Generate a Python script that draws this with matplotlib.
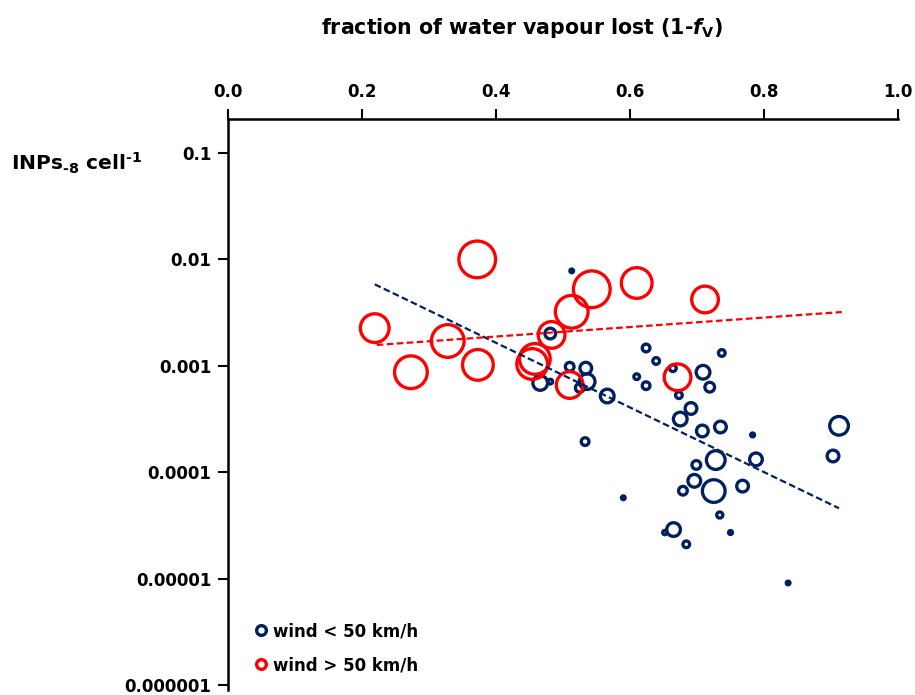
import matplotlib
matplotlib.use('Agg')
import matplotlib.pyplot as plt
from matplotlib.lines import Line2D

plt.rcParams['font.family'] = ['DejaVu Sans']
plt.rcParams['font.weight'] = 'bold'
plt.rcParams['mathtext.fontset'] = 'custom'
plt.rcParams['mathtext.rm'] = 'DejaVu Sans:bold'
plt.rcParams['mathtext.it'] = 'DejaVu Sans:italic:bold'
plt.rcParams['mathtext.bf'] = 'DejaVu Sans:bold'

# wind < 50 km/h
navy_x = [0.624, 0.639, 0.664, 0.737, 0.709, 0.719, 0.610, 0.624, 0.673, 0.691,
          0.675, 0.708, 0.735, 0.783, 0.533, 0.728, 0.788, 0.903, 0.912, 0.699,
          0.696, 0.679, 0.725, 0.768, 0.590, 0.734, 0.665, 0.652, 0.750, 0.684,
          0.836, 0.466, 0.481, 0.510, 0.534, 0.536, 0.525, 0.566, 0.481, 0.513]
navy_y = [1.47e-3, 1.11e-3, 9.5e-4, 1.32e-3, 8.7e-4, 6.3e-4, 7.9e-4, 6.5e-4, 5.3e-4, 3.97e-4,
          3.16e-4, 2.44e-4, 2.66e-4, 2.24e-4, 1.94e-4, 1.30e-4, 1.32e-4, 1.42e-4, 2.73e-4, 1.17e-4,
          8.3e-5, 6.7e-5, 6.65e-5, 7.4e-5, 5.75e-5, 3.96e-5, 2.89e-5, 2.71e-5, 2.71e-5, 2.1e-5,
          9.1e-6, 6.9e-4, 7.1e-4, 9.8e-4, 9.5e-4, 7.1e-4, 6.2e-4, 5.2e-4, 2.01e-3, 7.8e-3]
navy_bubble = [5.5, 5, 5, 5, 8.5, 6.5, 4.5, 5.5, 5, 7.5,
               8.5, 7.5, 7.5, 3.6, 5.5, 11, 8, 7.5, 11, 6,
               8, 6, 13, 7.5, 3.5, 4.7, 8.5, 3.8, 3.6, 5,
               3.5, 9, 4, 6, 7.5, 9.5, 6, 8.5, 7, 3.5]

# wind > 50 km/h
red_x = [0.372, 0.219, 0.328, 0.273, 0.373, 0.454, 0.458, 0.510, 0.513, 0.543,
         0.483, 0.610, 0.712, 0.671]
red_y = [1.0e-2, 2.26e-3, 1.71e-3, 8.7e-4, 1.02e-3, 1.04e-3, 1.16e-3, 6.6e-4, 3.22e-3, 5.24e-3,
         1.95e-3, 6.0e-3, 4.2e-3, 7.8e-4]
red_bubble = [20, 16, 18, 18, 17, 17, 17, 15, 18, 20,
              15, 17, 15, 15]

# exponential trend lines (end points)
trend_x = [0.219, 0.912]
trend_navy = [5.83e-3, 4.58e-5]
trend_x_red = [0.222, 0.916]
trend_red = [1.57e-3, 3.2e-3]

yticks = [1e-1, 1e-2, 1e-3, 1e-4, 1e-5, 1e-6]
ytick_labels = ['0.1', '0.01', '0.001', '0.0001', '0.00001', '0.000001']
xticks = [0.0, 0.2, 0.4, 0.6, 0.8, 1.0]

NAVY = '#002060'
RED = '#FF0000'
W, H = 915, 695
ring_px = 3.3


def marker_size(radii):
    # outer radius in px -> scatter area in pt^2
    return [(2 * max(r - ring_px / 2, 0.5) * 0.72) ** 2 for r in radii]


fig = plt.figure(figsize=(W / 100, H / 100), dpi=100)
ax = fig.add_axes([228 / W, 1 - 690 / H, 670 / W, (690 - 119) / H])

ax.scatter(navy_x, navy_y, s=marker_size(navy_bubble), facecolors='none',
           edgecolors=NAVY, linewidths=ring_px * 0.72, zorder=3)
ax.scatter(red_x, red_y, s=marker_size(red_bubble), facecolors='none',
           edgecolors=RED, linewidths=ring_px * 0.72, zorder=4)
ax.plot(trend_x, trend_navy, color=NAVY, lw=1.6, ls=(0, (3, 1.5)), zorder=5)
ax.plot(trend_x_red, trend_red, color=RED, lw=1.6, ls=(0, (3, 1.5)), zorder=5)

ax.set_yscale('log')
ax.set_xlim(0, 1)
ax.set_ylim(10 ** (-6 - 5 / 106.4), 10 ** (-1 + 34 / 106.4))
ax.set_yticks(yticks)
ax.set_yticklabels(ytick_labels)
ax.yaxis.set_minor_locator(matplotlib.ticker.NullLocator())
ax.set_xticks(xticks)
ax.set_xticklabels(['%.1f' % v for v in xticks])
ax.xaxis.tick_top()
ax.tick_params(axis='both', direction='out', length=7, width=1.5,
               labelsize=12, pad=6, colors='black')
ax.tick_params(axis='y', pad=5)
for lab in ax.get_xticklabels() + ax.get_yticklabels():
    lab.set_fontweight('bold')

ax.spines['right'].set_visible(False)
ax.spines['bottom'].set_visible(False)
ax.spines['left'].set_linewidth(1.8)
ax.spines['top'].set_linewidth(1.8)

fig.text(522 / W, 1 - 28 / H, r'fraction of water vapour lost (1-$\mathit{f}_{\mathrm{V}}$)',
         ha='center', va='center', fontsize=14.8, fontweight='bold')
fig.text(11 / W, 1 - 170 / H, r'INPs$_{\text{-8}}$ cell$^{\text{-1}}$',
         ha='left', va='baseline', fontsize=14.6, fontweight='bold')

handles = [
    Line2D([], [], ls='none', marker='o', markersize=7, markerfacecolor='none',
           markeredgecolor=NAVY, markeredgewidth=2.4, label='wind < 50 km/h'),
    Line2D([], [], ls='none', marker='o', markersize=7, markerfacecolor='none',
           markeredgecolor=RED, markeredgewidth=2.4, label='wind > 50 km/h'),
]
leg = ax.legend(handles=handles, loc='lower left', bbox_to_anchor=(255 / W, 1 - 674 / H),
                bbox_transform=fig.transFigure, frameon=False, handlelength=0.7,
                handletextpad=0.4, labelspacing=0.95, borderpad=0, borderaxespad=0,
                prop={'size': 12, 'weight': 'bold'})

fig.savefig('out.png', dpi=100)
